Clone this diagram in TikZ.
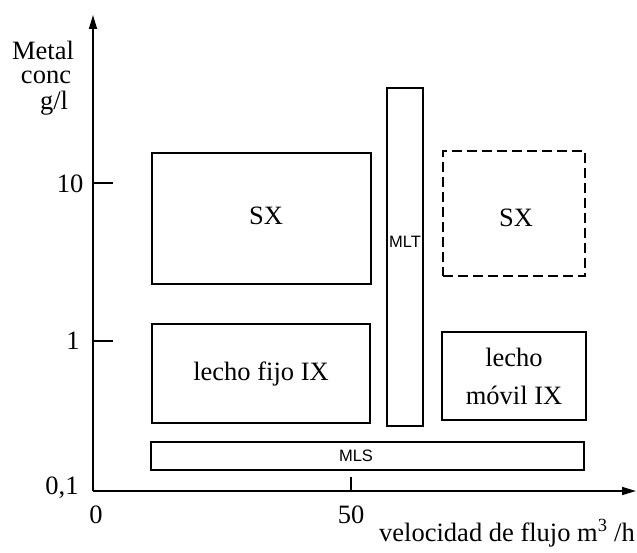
\documentclass[tikz,border=0pt]{standalone}
\usepackage{fontspec}
\setmainfont{Liberation Serif}
\newfontfamily\labsans{Liberation Sans}
\usetikzlibrary{arrows.meta}
\begin{document}
\begin{tikzpicture}[x=1pt,y=-1pt,
  every node/.style={font=\fontsize{26.5}{30}\selectfont, inner sep=0pt},
  region/.style={draw, line width=1.3pt, inner sep=0pt},
  dregion/.style={region, dash pattern=on 10pt off 5pt},
  axis/.style={line width=1.6pt, -{Triangle[length=14pt,width=8pt]}},
  tickline/.style={line width=1.5pt},
  small/.style={font=\labsans\fontsize{16.5}{18}\selectfont}]
\useasboundingbox (0,0) rectangle (637,553);

% axes
\coordinate (o) at (93,491);
\coordinate (ytip) at (93,15);
\coordinate (xtip) at (636,491);
\draw[axis] (o) -- (ytip);
\draw[axis] (o) -- (xtip);

% ticks
\coordinate (t10a) at (93,183);  \coordinate (t10b) at (113,183);
\coordinate (t1a) at (93,341);   \coordinate (t1b) at (113,341);
\coordinate (t50a) at (351,477); \coordinate (t50b) at (351,491);
\draw[tickline] (t10a) -- (t10b);
\draw[tickline] (t1a) -- (t1b);
\draw[tickline] (t50a) -- (t50b);

% axis labels
\node (l10) at (70,184) {10};
\node (l1) at (73,341) {1};
\node (l01) at (62,488) {0,1};
\node (l0) at (96,515) {0};
\node (l50) at (351,515) {50};
\node[anchor=base east] (xlab) at (635,541) {velocidad de flujo m\textsuperscript{3} /h};
\node (ylab1) at (43,50) {Metal};
\node (ylab2) at (46,77) {conc};
\node (ylab3) at (54,103) {g/l};

% regions
\node[region, minimum width=219pt, minimum height=131pt] (sxa) at (261.5,218.5) {};
\node (sxalab) at (266,216) {SX};
\node[region, minimum width=218pt, minimum height=99pt] (fijo) at (261,373.5) {lecho fijo IX};
\node[region, minimum width=36pt, minimum height=338pt] (mlt) at (405,257) {};
\node[small] (mltlab) at (405,242) {MLT};
\node[dregion, minimum width=142pt, minimum height=125pt] (sxb) at (514,213.5) {};
\node (sxblab) at (516,218) {SX};
\node[region, minimum width=144pt, minimum height=88pt, align=center,
      font=\fontsize{26.5}{38}\selectfont] (movil) at (514,376) {lecho\\m\'ovil IX};
\node[region, minimum width=433pt, minimum height=28pt] (mls) at (367.5,456) {};
\node[small] (mlslab) at (356,456) {MLS};
\end{tikzpicture}
\end{document}
